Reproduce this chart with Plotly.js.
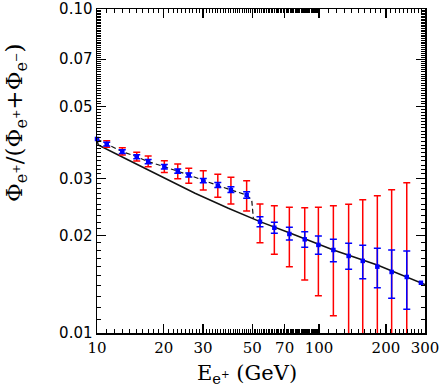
<!DOCTYPE html>
<html>
<head>
<meta charset="utf-8">
<script src="https://cdn.plot.ly/plotly-3.0.1.min.js"></script>
<style>
  body { margin: 0; background: #fff; }
  #chart { width: 443px; height: 391px; }
</style>
</head>
<body>
<div id="chart"></div>
<script>
// Measured points (energy in GeV, positron fraction)
var energy = [11.06, 13.0, 15.1, 17.0, 20.1, 23.1, 25.9, 30.1, 35.0, 40.1, 47.2,
              54.2, 62.9, 73.5, 86.2, 99.3, 116, 135.9, 157.3, 183, 212.3, 248.3];
var fraction = [0.0383, 0.03627, 0.0350, 0.0338, 0.0326, 0.0316, 0.03076, 0.02958, 0.0285, 0.02763, 0.02667,
                0.02206, 0.02113, 0.02021, 0.01946, 0.0187, 0.01804, 0.01729, 0.01669, 0.01602, 0.01543, 0.01489];

// Statistical error band (blue)
var statHigh = [0.0388, 0.0368, 0.0355, 0.0343, 0.0331, 0.0321, 0.0312, 0.0300, 0.02913, 0.02826, 0.0273,
                0.02286, 0.02196, 0.0212, 0.02055, 0.01993, 0.01946, 0.01891, 0.01865, 0.01826, 0.01804, 0.01791];
var statLow = [0.0378, 0.0358, 0.0345, 0.0333, 0.0321, 0.0311, 0.0303, 0.0291, 0.02811, 0.02714, 0.02604,
               0.02128, 0.02031, 0.01936, 0.01839, 0.01749, 0.0166, 0.01573, 0.01471, 0.0138, 0.01279, 0.01183];

// Total error band (red)
var totHigh = [0.03923, 0.03731, 0.03611, 0.03517, 0.03403, 0.03324, 0.03224, 0.0317, 0.0309, 0.03025, 0.02952,
               0.025, 0.02471, 0.02443, 0.02435, 0.02443, 0.02471, 0.02495, 0.02578, 0.02653, 0.02769, 0.0291];
var totLow = [0.03741, 0.03543, 0.03396, 0.03261, 0.03126, 0.02995, 0.02897, 0.02763, 0.02623, 0.025, 0.02379,
              0.019, 0.01749, 0.01602, 0.01458, 0.01303, 0.01131, 0.005, 0.005, 0.005, 0.005, 0.005];

// Model curve (solid)
var modelE = [10, 10.13, 13.83, 19.56, 27.63, 39.03, 49.75, 54.2, 73.9, 116, 183, 287.6, 300];
var modelF = [0.0394, 0.03804, 0.0342, 0.03038, 0.02699, 0.02426, 0.0226, 0.02206, 0.02035, 0.01804, 0.01621, 0.01429, 0.01411];

// Fit through low-energy points (dashed)
var fitE = [10, 11.06, 13.0, 15.1, 17.0, 20.1, 23.1, 25.9, 30.1, 35.0, 40.1, 47.2, 49.75, 50.6];
var fitF = [0.0397, 0.0383, 0.03627, 0.0350, 0.0338, 0.0326, 0.0316, 0.03076, 0.02958, 0.0285, 0.02763, 0.02667, 0.02573, 0.0226];

// End markers on the curve
var endE = [10, 287.6];
var endF = [0.0397, 0.01429];

// Tick labels
var xTicks = [10, 20, 30, 50, 70, 100, 200, 300];
var xTickText = ['10', '20', '30', '50', '70', '100', '200', '300'];
var yTicks = [0.01, 0.02, 0.03, 0.05, 0.07, 0.1];
var yTickText = ['0.01', '0.02', '0.03', '0.05', '0.07', '0.10'];

// minor tick positions
var xMinor = [];
for (var i = 11; i < 100; i++) if (xTicks.indexOf(i) < 0) xMinor.push(i);
for (var j = 110; j < 300; j += 10) if (xTicks.indexOf(j) < 0) xMinor.push(j);
var yMinor = [];
for (var k = 11; k < 100; k++) {
  if ([20, 30, 50, 70].indexOf(k) < 0) yMinor.push(k / 1000);
}

function diff(a, b) { return a.map(function (x, n) { return Math.abs(x - b[n]); }); }

var model = {
  x: modelE, y: modelF, mode: 'lines', type: 'scatter',
  line: { color: '#111', width: 1.5 }, hoverinfo: 'skip'
};

var fit = {
  x: fitE, y: fitF, mode: 'lines', type: 'scatter',
  line: { color: '#111', width: 1.2, dash: '5px,3px' }, hoverinfo: 'skip'
};

var totalErr = {
  x: energy, y: fraction, mode: 'markers', type: 'scatter',
  marker: { size: 1, color: 'rgba(0,0,0,0)' },
  error_y: {
    type: 'data', symmetric: false,
    array: diff(totHigh, fraction), arrayminus: diff(fraction, totLow),
    color: 'rgb(255,0,0)', thickness: 1.5, width: 3.5
  }
};

var statErr = {
  x: energy, y: fraction, mode: 'markers', type: 'scatter',
  marker: { symbol: 'square', size: 4.5, color: 'rgb(0,0,255)' },
  error_y: {
    type: 'data', symmetric: false,
    array: diff(statHigh, fraction), arrayminus: diff(fraction, statLow),
    color: 'rgb(0,0,255)', thickness: 1.5, width: 3.5
  }
};

var ends = {
  x: endE, y: endF, mode: 'markers', type: 'scatter', cliponaxis: false,
  marker: { symbol: 'square', size: 4.5, color: 'rgb(0,0,255)' }
};

var axisCommon = {
  showline: true, linecolor: '#000', linewidth: 1.5, mirror: 'allticks',
  ticks: 'inside', ticklen: 9, tickwidth: 1.2, tickcolor: '#000',
  showgrid: false, zeroline: false
};

var layout = {
  width: 443, height: 391,
  margin: { l: 97, r: 18, t: 9, b: 58 },
  paper_bgcolor: '#fff', plot_bgcolor: '#fff',
  showlegend: false,
  xaxis: Object.assign({}, axisCommon, {
    type: 'log', range: [1, Math.log10(300)],
    tickmode: 'array', tickvals: xTicks, ticktext: xTickText,
    tickfont: { family: 'DejaVu Serif', size: 15, color: '#000' },
    minor: { tickmode: 'array', tickvals: xMinor, ticks: 'inside', ticklen: 4, tickwidth: 1, tickcolor: '#000' }
  }),
  yaxis: Object.assign({}, axisCommon, {
    type: 'log', range: [-2, -1],
    tickmode: 'array', tickvals: yTicks, ticktext: yTickText,
    tickfont: { family: 'DejaVu Sans', size: 15, color: '#000' },
    minor: { tickmode: 'array', tickvals: yMinor, ticks: 'inside', ticklen: 4, tickwidth: 1, tickcolor: '#000' }
  }),
  annotations: [
    {
      text: 'E<sub>e<sup>+</sup></sub> (GeV)', showarrow: false,
      xref: 'paper', yref: 'paper', x: 0.458, y: -0.128,
      xanchor: 'center', yanchor: 'middle',
      font: { family: 'DejaVu Serif', size: 21, color: '#000' }
    },
    {
      text: 'Φ<sub>e<sup>+</sup></sub>/(Φ<sub>e<sup>+</sup></sub>+Φ<sub>e<sup>−</sup></sub>)',
      showarrow: false, textangle: -90,
      xref: 'paper', yref: 'paper', x: -0.245, y: 0.65,
      xanchor: 'center', yanchor: 'middle',
      font: { family: 'DejaVu Serif', size: 23, color: '#000' }
    }
  ]
};

Plotly.newPlot('chart', [model, fit, totalErr, statErr, ends], layout, { staticPlot: true });
</script>
</body>
</html>
